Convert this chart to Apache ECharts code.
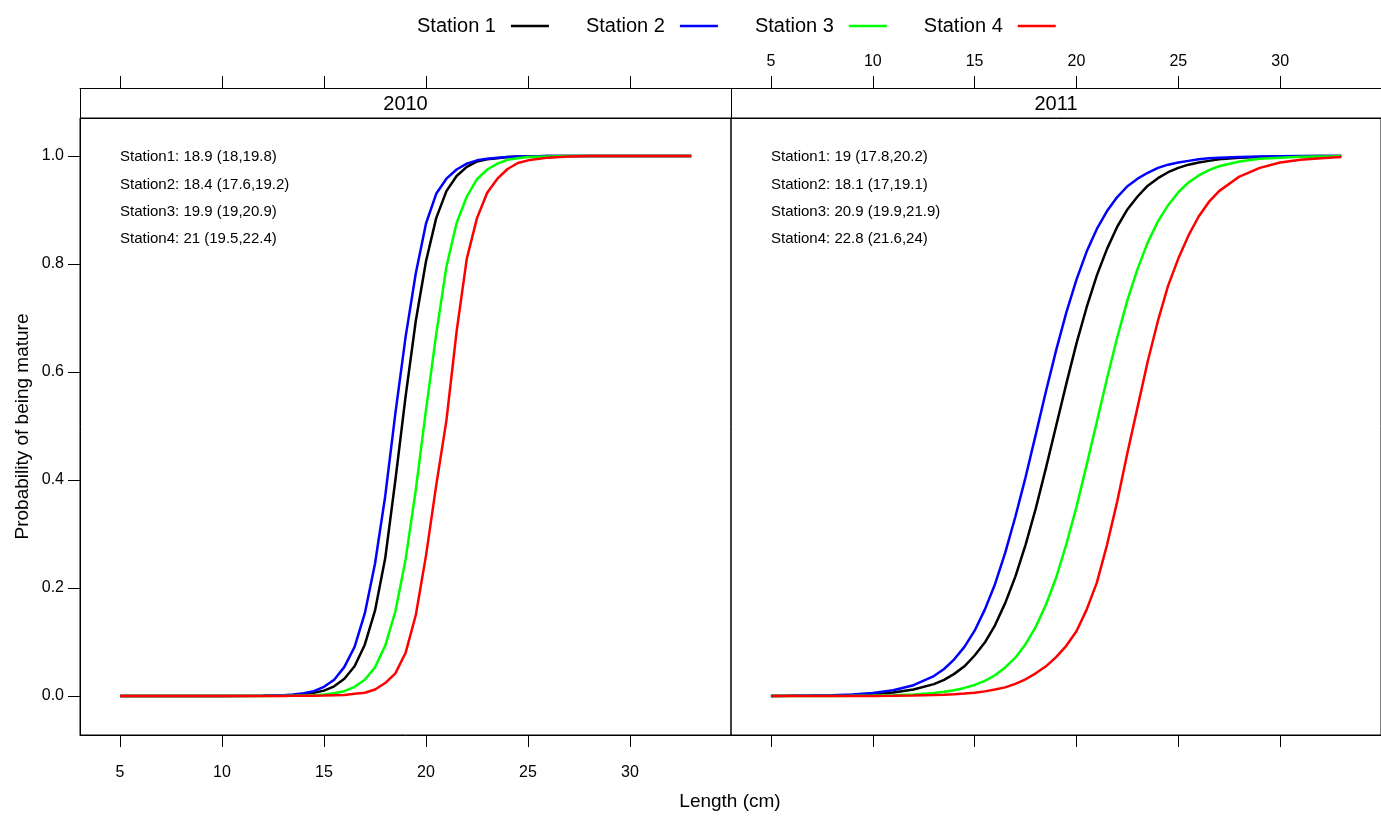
<!DOCTYPE html>
<html>
<head>
<meta charset="utf-8">
<script src="https://cdn.jsdelivr.net/npm/echarts@6/dist/echarts.min.js"></script>
<style>html,body{margin:0;padding:0;background:#fff}#c{width:1381px;height:816px}</style>
</head>
<body>
<div id="c"></div>
<script>
// ---- data ----
const stationNames = ['Station 1', 'Station 2', 'Station 3', 'Station 4'];
const stationColors = ['#000000', '#0000FF', '#00FF00', '#FF0000'];
const panelYears = ['2010', '2011'];
const xTicks = [5, 10, 15, 20, 25, 30];
const yTicks = [0, 0.2, 0.4, 0.6, 0.8, 1.0];

const len2010 = [5, 8, 10, 12, 13, 13.5, 14, 14.5, 15, 15.5, 16, 16.5, 17, 17.5, 18, 18.5, 19, 19.5, 20, 20.5, 21, 21.5, 22, 22.5, 23, 23.5, 24, 24.5, 25, 26, 27, 28, 30, 33];
const st1_2010 = [0, 0, 0, 0.0003, 0.001, 0.002, 0.0035, 0.006, 0.01, 0.018, 0.032, 0.055, 0.095, 0.158, 0.255, 0.40, 0.555, 0.695, 0.805, 0.885, 0.935, 0.963, 0.98, 0.99, 0.994, 0.996, 0.998, 0.999, 0.999, 1, 1, 1, 1, 1];
const st2_2010 = [0, 0, 0, 0.0005, 0.0015, 0.003, 0.005, 0.009, 0.017, 0.03, 0.054, 0.091, 0.153, 0.245, 0.37, 0.524, 0.665, 0.783, 0.875, 0.93, 0.958, 0.975, 0.986, 0.992, 0.995, 0.997, 0.998, 0.999, 0.999, 1, 1, 1, 1, 1];
const st3_2010 = [0, 0, 0, 0.0001, 0.0003, 0.0005, 0.001, 0.0015, 0.003, 0.005, 0.009, 0.017, 0.03, 0.053, 0.093, 0.157, 0.253, 0.382, 0.53, 0.67, 0.795, 0.876, 0.925, 0.957, 0.975, 0.986, 0.993, 0.996, 0.998, 0.999, 1, 1, 1, 1];
const st4_2010 = [0, 0, 0, 0, 0.0002, 0.0003, 0.0005, 0.0007, 0.001, 0.0015, 0.002, 0.004, 0.006, 0.012, 0.024, 0.042, 0.08, 0.15, 0.26, 0.39, 0.51, 0.675, 0.81, 0.885, 0.932, 0.958, 0.976, 0.987, 0.992, 0.997, 0.999, 1, 1, 1];

const len2011 = [5, 6, 7, 8, 9, 10, 11, 12, 13, 13.5, 14, 14.5, 15, 15.5, 16, 16.5, 17, 17.5, 18, 18.5, 19, 19.5, 20, 20.5, 21, 21.5, 22, 22.5, 23, 23.5, 24, 24.5, 25, 25.5, 26, 26.5, 27, 28, 29, 30, 31, 32, 33];
const st1_2011 = [0.0001, 0.0003, 0.0005, 0.001, 0.0018, 0.0034, 0.0064, 0.012, 0.022, 0.03, 0.041, 0.055, 0.075, 0.099, 0.131, 0.172, 0.221, 0.28, 0.347, 0.422, 0.5, 0.578, 0.653, 0.72, 0.779, 0.828, 0.869, 0.901, 0.925, 0.945, 0.959, 0.97, 0.978, 0.984, 0.988, 0.991, 0.994, 0.997, 0.998, 0.999, 0.9995, 1, 1];
const st2_2011 = [0.0002, 0.0004, 0.0008, 0.0016, 0.003, 0.0056, 0.0106, 0.02, 0.037, 0.05, 0.068, 0.091, 0.121, 0.16, 0.207, 0.265, 0.332, 0.405, 0.484, 0.564, 0.64, 0.71, 0.771, 0.823, 0.865, 0.898, 0.924, 0.944, 0.958, 0.969, 0.978, 0.984, 0.988, 0.991, 0.994, 0.996, 0.997, 0.998, 0.999, 0.9995, 1, 1, 1];
const st3_2011 = [0, 0.0001, 0.0001, 0.0002, 0.0004, 0.0008, 0.0015, 0.003, 0.0057, 0.0079, 0.0108, 0.015, 0.0205, 0.028, 0.0385, 0.053, 0.071, 0.096, 0.128, 0.169, 0.219, 0.281, 0.35, 0.428, 0.508, 0.588, 0.664, 0.733, 0.791, 0.84, 0.879, 0.909, 0.933, 0.951, 0.964, 0.974, 0.981, 0.99, 0.995, 0.997, 0.9985, 0.999, 0.9995];
const st4_2011 = [0, 0, 0, 0.0001, 0.0001, 0.0002, 0.0004, 0.0009, 0.0017, 0.0023, 0.0033, 0.0045, 0.0062, 0.0086, 0.0119, 0.016, 0.0225, 0.031, 0.042, 0.055, 0.072, 0.093, 0.12, 0.16, 0.21, 0.28, 0.36, 0.45, 0.535, 0.62, 0.695, 0.76, 0.81, 0.853, 0.888, 0.915, 0.935, 0.962, 0.978, 0.988, 0.993, 0.996, 0.998];

const notes2010 = ['Station1: 18.9 (18,19.8)', 'Station2: 18.4 (17.6,19.2)', 'Station3: 19.9 (19,20.9)', 'Station4: 21 (19.5,22.4)'];
const notes2011 = ['Station1: 19 (17.8,20.2)', 'Station2: 18.1 (17,19.1)', 'Station3: 20.9 (19.9,21.9)', 'Station4: 22.8 (21.6,24)'];

// ---- chart ----
const FONT = 'Liberation Sans, Arial, sans-serif';
const chart = echarts.init(document.getElementById('c'), null, {renderer: 'canvas'});

const panels = [
  {lens: len2010, vals: [st1_2010, st2_2010, st3_2010, st4_2010]},
  {lens: len2011, vals: [st1_2011, st2_2011, st3_2011, st4_2011]}
];

const series = [];
panels.forEach((p, gi) => {
  p.vals.forEach((v, si) => {
    series.push({
      name: stationNames[si],
      type: 'line',
      xAxisIndex: gi,
      yAxisIndex: gi,
      data: p.lens.map((x, i) => [x, v[i]]),
      showSymbol: false,
      symbol: 'none',
      smooth: false,
      lineStyle: {color: stationColors[si], width: 2.5},
      itemStyle: {color: stationColors[si]},
      z: 10 + si,
      animation: false
    });
  });
});

const XMIN = 3.04, XMAX = 34.95, YMIN = -0.0722, YMAX = 1.0704;

function xAx(gi, pos, showLabels, offset) {
  return {
    type: 'value', gridIndex: gi, position: pos, offset: offset || 0,
    min: XMIN, max: XMAX,
    axisLine: {show: true, onZero: false, lineStyle: {color: '#000', width: 1}},
    axisTick: {show: true, inside: false, length: 12, customValues: xTicks, lineStyle: {color: '#000'}},
    axisLabel: {show: showLabels, customValues: xTicks, margin: pos === 'top' ? 18 : 30,
      color: '#000', fontSize: 16, fontFamily: FONT},
    splitLine: {show: false}
  };
}

const notesGraphic = [];
[notes2010, notes2011].forEach((arr, gi) => {
  arr.forEach((t, i) => {
    notesGraphic.push({
      type: 'text', left: gi === 0 ? 120 : 771, top: [149, 177, 204, 231][i],
      style: {text: t, fill: '#000', font: '15px ' + FONT}
    });
  });
});

const option = {
  backgroundColor: '#fff',
  animation: false,
  legend: {
    data: stationNames.map((n, i) => ({name: n, icon: 'rect', itemStyle: {color: stationColors[i]}})),
    left: 412, top: 11,
    align: 'right',
    itemWidth: 38, itemHeight: 2.5, itemGap: 37,
    textStyle: {fontSize: 20, color: '#000', fontFamily: FONT, padding: [0, 10, 0, 0]},
    selectedMode: false
  },
  grid: [
    {left: 80, top: 118, width: 651, height: 617, show: true, borderColor: '#000', borderWidth: 1, containLabel: false},
    {left: 731, top: 118, width: 652, height: 617, show: true, borderColor: '#000', borderWidth: 1, containLabel: false}
  ],
  xAxis: [
    xAx(0, 'bottom', true),
    xAx(1, 'bottom', false),
    xAx(0, 'top', false, 30),
    xAx(1, 'top', true, 30)
  ],
  yAxis: [
    {
      type: 'value', gridIndex: 0, min: YMIN, max: YMAX, position: 'left',
      name: 'Probability of being mature', nameLocation: 'middle', nameGap: 48,
      nameTextStyle: {fontSize: 19, color: '#000', fontFamily: FONT},
      axisLine: {show: true, lineStyle: {color: '#000', width: 1}},
      axisTick: {show: true, inside: false, length: 12, customValues: yTicks, lineStyle: {color: '#000'}},
      axisLabel: {customValues: yTicks, margin: 16, color: '#000', fontSize: 16, fontFamily: FONT,
        formatter: v => Number(v).toFixed(1)},
      splitLine: {show: false}
    },
    {
      type: 'value', gridIndex: 1, min: YMIN, max: YMAX, show: false,
      splitLine: {show: false}
    }
  ],
  graphic: [
    {type: 'rect', shape: {x: 80.5, y: 88.5, width: 1303, height: 30}, style: {fill: '#fff', stroke: '#000', lineWidth: 1}, z: -1},
    {type: 'line', shape: {x1: 731.5, y1: 88, x2: 731.5, y2: 118}, style: {stroke: '#000', lineWidth: 1}},
    {type: 'text', x: 405.5, y: 104, style: {text: panelYears[0], fill: '#000', font: '20px ' + FONT, textAlign: 'center', textVerticalAlign: 'middle'}},
    {type: 'text', x: 1056, y: 104, style: {text: panelYears[1], fill: '#000', font: '20px ' + FONT, textAlign: 'center', textVerticalAlign: 'middle'}},
    {type: 'text', x: 730, y: 802, style: {text: 'Length (cm)', fill: '#000', font: '19px ' + FONT, textAlign: 'center', textVerticalAlign: 'middle'}}
  ].concat(notesGraphic),
  series: series
};
chart.setOption(option);
</script>
</body>
</html>
